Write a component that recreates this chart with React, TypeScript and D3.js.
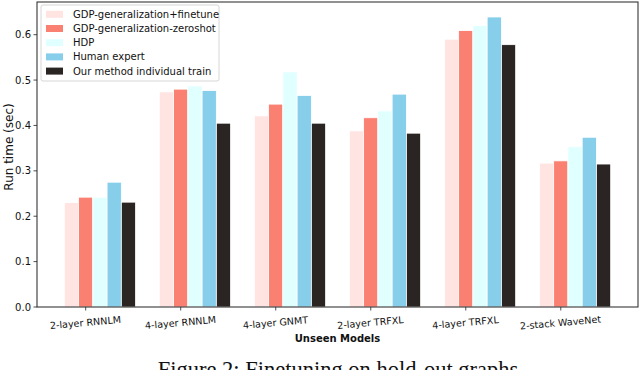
import React from "react";
import * as d3 from "d3";

const categories = ["2-layer RNNLM", "4-layer RNNLM", "4-layer GNMT", "2-layer TRFXL", "4-layer TRFXL", "2-stack WaveNet"];
const seriesNames = ["GDP-generalization+finetune", "GDP-generalization-zeroshot", "HDP", "Human expert", "Our method individual train"];
const finetune = [0.23, 0.474, 0.421, 0.388, 0.59, 0.317];
const zeroshot = [0.242, 0.48, 0.447, 0.417, 0.609, 0.322];
const hdp = [0.242, 0.487, 0.518, 0.432, 0.62, 0.353];
const human = [0.275, 0.477, 0.466, 0.469, 0.639, 0.374];
const ours = [0.231, 0.405, 0.405, 0.383, 0.578, 0.315];
const seriesValues = [finetune, zeroshot, hdp, human, ours];
const colors = ["#ffe4e1", "#fa8072", "#e0ffff", "#87ceeb", "#2a2522"];
const yTicks = [0, 0.1, 0.2, 0.3, 0.4, 0.5, 0.6];

const W = 640, H = 370;
const left = 37, right = 638, top = 2, bottom = 307;
const barW = 0.15;

export default function App() {
  const x = d3.scaleLinear().domain([-0.5125, 5.8125]).range([left, right]);
  const y = d3.scaleLinear().domain([0, 0.672]).range([bottom, top]);
  const font = "DejaVu Sans";
  return (
    <svg width={W} height={H} style={{ position: "absolute", left: 0, top: 0 }} fontFamily={font}>
      <rect x={0} y={0} width={W} height={H} fill="white" />
      {seriesValues.map((vals, j) =>
        vals.map((v, i) => {
          const cx = i + (j - 1) * barW;
          return (
            <rect key={`${j}-${i}`} x={x(cx - barW / 2)} y={y(v)} width={x(cx + barW / 2) - x(cx - barW / 2)} height={y(0) - y(v)}
              fill={colors[j]} stroke="white" strokeWidth={0.8} />
          );
        })
      )}
      <rect x={left} y={top} width={right - left} height={bottom - top} fill="none" stroke="#222" strokeWidth={1} />
      {yTicks.map((t) => (
        <g key={t}>
          <line x1={left - 3.5} x2={left} y1={y(t)} y2={y(t)} stroke="#222" strokeWidth={0.8} />
          <text x={left - 6} y={y(t)} dy="0.35em" textAnchor="end" fontSize={10} fill="#111">{t.toFixed(1)}</text>
        </g>
      ))}
      {categories.map((c, i) => (
        <g key={c}>
          <line x1={x(i)} x2={x(i)} y1={bottom} y2={bottom + 3.5} stroke="#222" strokeWidth={0.8} />
          <text transform={`translate(${x(i)},${bottom + 19}) rotate(-5)`} textAnchor="middle" fontSize={9.6} fill="#111">{c}</text>
        </g>
      ))}
      <text x={(left + right) / 2} y={342} textAnchor="middle" fontSize={10} fontWeight="bold" fill="#111">Unseen Models</text>
      <text transform={`translate(13,147) rotate(-90)`} textAnchor="middle" fontSize={12} fill="#111">Run time (sec)</text>
      <rect x={41} y={5} width={178} height={76} rx={2} fill="white" fillOpacity={0.8} stroke="#ccc" strokeWidth={0.8} />
      {seriesNames.map((n, j) => (
        <g key={n}>
          <rect x={46} y={14.3 + j * 14.2 - 3.5} width={17} height={7} fill={colors[j]} />
          <text x={73} y={14.3 + j * 14.2} dy="0.35em" fontSize={10} fill="#111">{n}</text>
        </g>
      ))}
      <text x={338} y={377} textAnchor="middle" fontFamily="Liberation Serif" fontSize={22.5} fill="#111">Figure 2: Finetuning on hold-out graphs</text>
    </svg>
  );
}
